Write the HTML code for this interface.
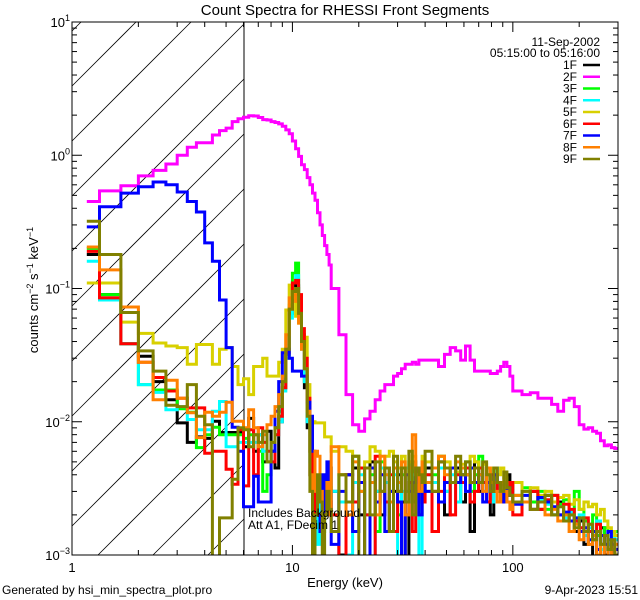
<!DOCTYPE html>
<html><head><meta charset="utf-8"><style>
html,body{margin:0;padding:0;background:#fff;width:640px;height:600px;overflow:hidden;}
svg{display:block;font-family:"Liberation Sans",sans-serif;overflow:hidden;}
</style></head><body>
<svg id="chart" width="640" height="600" viewBox="0 0 640 600" xmlns="http://www.w3.org/2000/svg">
<rect width="640" height="600" fill="#fff"/>
<defs><clipPath id="plotclip"><rect x="72" y="22" width="546" height="533"/></clipPath></defs>
<text x="345" y="15" font-size="15" text-anchor="middle">Count Spectra for RHESSI Front Segments</text>
<g id="hatch"></g>
<line x1="244" y1="22" x2="244" y2="555" stroke="#000" stroke-width="1"/>
<g id="series" clip-path="url(#plotclip)"></g>
<g id="axes"></g>
<text x="248" y="517" font-size="12">Includes Background</text>
<text x="248" y="529" font-size="12">Att A1, FDecim 1</text>
<text x="600" y="46" font-size="12" text-anchor="end">11-Sep-2002</text>
<text x="600" y="57" font-size="12" text-anchor="end">05:15:00 to 05:16:00</text>
<g id="legend"></g>
<text x="345" y="587" font-size="13" text-anchor="middle">Energy (keV)</text>
<text transform="translate(38,290) rotate(-90)" font-size="13" text-anchor="middle">counts cm<tspan font-size="9" dy="-5">−2</tspan><tspan dy="5"> s</tspan><tspan font-size="9" dy="-5">−1</tspan><tspan dy="5"> keV</tspan><tspan font-size="9" dy="-5">−1</tspan></text>
<text x="2" y="594" font-size="12">Generated by hsi_min_spectra_plot.pro</text>
<text x="638" y="594" font-size="12" text-anchor="end">9-Apr-2023 15:51</text>
</svg>
<script>
const lowEdges = [1.1667,1.3333,1.6667,2,2.3333,2.6667,3,3.3333,3.6667,4,4.3333,4.6667,5,5.3333,5.6667,6,6.3333,6.6667,7,7.3333,7.6667,8,8.3333,8.6667,9,9.3333,9.6667,10,10.3333,10.6667,11,11.3333,11.6667,12,12.3333,12.6667,13,13.3333,13.6667,14,14.3333,14.6667,15];
const highEdges = [16.25,17.5,18.75,20,21.25,22.5,23.75,25,26.25,27.5,28.75,30,31.25,32.5,33.75,35,36.25,37.5,38.75,40,43,46,49,52,55,58,61,64,67,70,73,76,79,82,85,88,91,94,97,100,110,120,130,140,150,160,170,180,190,200,210,220,230,240,250,260,270,280,290,300];
const seriesNames = ["1F","2F","3F","4F","5F","6F","7F","8F","9F"];
const seriesColors = ["#000000","#ff00ff","#00ff00","#00ffff","#d8d000","#ff0000","#0000ff","#ff8000","#808000"];
const yTicks = [10,1,0.1,0.01,0.001];
const yTickExp = ["1","0","−1","−2","−3"];
const xTicks = [1,10,100];
const xTickLabels = ["1","10","100"];

const s1F = [0.18,0.09,0.0385,0.031,0.02,0.0146,0.0098,0.007,0.0077,0.0075,0.0101,0.0083,0.0083,0.0083,0.0083,0.0065,0.0106,0.006,0.008,0.005,0.0085,0.006,0.0045,0.010,0.018,0.032,0.065,0.10,0.105,0.065,0.04,0.018,0.009,0.004,0.0008,0.003,0.002,0.0035,0.0025,0.003,0.004,0.0045,
 .003,.001,.004,.0045,.002,.0008,.005,.003,.002,.0045,.0015,.003,.004,.0025,.0008,.0035,.005,.003,.002,.004,.0045,.003,.005,.002,.0035,.0045,.0025,.004,.0015,.005,.003,.0035,.0045,.002,.004,.003,.0035,.0025,.004,.003,.0035,.0025,.003,.0022,.0028,.002,.0025,.0018,.002,.0015,.0018,.0012,.0015,.0008,.0014,.0016,.001,.0012,.0009,.0011];
const s2F = [0.45,0.54,0.59,0.70,0.77,0.86,1.0,1.15,1.24,1.24,1.42,1.53,1.60,1.79,1.88,1.93,1.98,1.97,1.92,1.85,1.84,1.79,1.76,1.72,1.65,1.55,1.45,1.28,1.12,0.98,0.85,0.78,0.68,0.60,0.52,0.46,0.37,0.30,0.25,0.21,0.18,0.15,
 0.10,0.045,0.016,0.0095,0.0085,0.0105,0.012,0.0146,0.017,0.019,0.019,0.022,0.023,0.025,0.027,0.027,0.028,0.027,0.029,0.029,0.029,0.029,0.026,0.032,0.036,0.034,0.029,0.037,0.029,0.024,0.024,0.024,0.024,0.023,0.023,0.024,0.026,0.028,0.026,0.022,0.017,0.016,0.0165,0.015,0.015,0.0135,0.012,0.0145,0.015,0.013,0.0095,0.0088,0.009,0.0085,0.0082,0.0072,0.0066,0.0067,0.0064,0.0063];
const s3F = [0.2,0.09,0.0385,0.019,0.0173,0.0173,0.0125,0.0118,0.0064,0.008,0.0091,0.008,0.008,0.008,0.008,0.0075,0.008,0.008,0.006,0.003,0.004,0.007,0.009,0.012,0.020,0.035,0.075,0.13,0.155,0.08,0.045,0.02,0.012,0.006,0.002,0.0035,0.003,0.002,0.0015,0.0025,0.003,0.0032,
 .002,.004,.0025,.0055,.003,.002,.004,.0015,.005,.0035,.003,.0045,.002,.004,.003,.005,.0025,.004,.0035,.005,.003,.004,.0055,.003,.0045,.0035,.004,.005,.003,.004,.0055,.0035,.004,.003,.0045,.0035,.003,.0025,.0035,.003,.0028,.0032,.0025,.003,.0022,.0028,.0024,.0026,.002,.003,.0022,.0018,.0017,.002,.0014,.0012,.0016,.0013,.0011,.0015];
const s4F = [0.16,0.082,0.0385,0.019,0.0166,0.0123,0.013,0.0104,0.0087,0.0087,0.012,0.0142,0.0065,0.0065,0.007,0.007,0.007,0.007,0.008,0.006,0.005,0.006,0.008,0.010,0.017,0.030,0.06,0.11,0.125,0.07,0.035,0.02,0.01,0.005,0.0015,0.002,0.0012,0.003,0.0035,0.002,0.003,0.0028,
 .003,.0025,.001,.0035,.004,.002,.0008,.003,.0045,.0035,.0025,.004,.0008,.003,.0045,.0025,.004,.0035,.0008,.003,.004,.0035,.0045,.003,.004,.0025,.0045,.003,.0035,.0045,.004,.003,.0035,.0025,.0045,.003,.0032,.0028,.0035,.003,.0025,.0028,.0022,.0026,.0024,.002,.0023,.0019,.0021,.0017,.002,.0014,.0016,.0013,.0018,.0011,.0014,.0012,.0015,.0013];
const s5F = [0.11,0.11,0.056,0.046,0.039,0.037,0.036,0.027,0.038,0.038,0.027,0.035,0.036,0.026,0.019,0.021,0.016,0.026,0.026,0.030,0.022,0.022,0.022,0.028,0.035,0.069,0.106,0.10,0.062,0.055,0.043,0.043,0.019,0.010,0.010,0.0098,0.0098,0.0098,0.0098,0.0077,0.0077,0.0077,
 .006,.0065,.006,.0055,.0045,.005,.0065,.006,.004,.0055,.006,.005,.0045,.0055,.004,.005,.0055,.0045,.004,.0055,.005,.0045,.0055,.005,.0045,.0042,.0048,.0045,.0055,.005,.0045,.0048,.004,.0045,.0035,.004,.0045,.0038,.0035,.0032,.0035,.003,.0032,.0028,.003,.0025,.0027,.0028,.0024,.0026,.0022,.0025,.0023,.0024,.002,.0022,.0018,.0016,.0015,.0014];
const s6F = [0.19,0.085,0.0385,0.028,0.0215,0.017,0.015,0.0127,0.0127,0.0058,0.006,0.006,0.0044,0.0034,0.0087,0.0033,0.0087,0.004,0.009,0.007,0.006,0.005,0.008,0.011,0.018,0.033,0.07,0.11,0.115,0.09,0.05,0.03,0.015,0.006,0.0008,0.003,0.002,0.0015,0.003,0.0025,0.002,0.0025,
 .002,.0008,.004,.0025,.0045,.002,.0008,.0055,.003,.0025,.004,.0015,.003,.0045,.002,.0035,.0015,.0045,.003,.0025,.004,.0015,.003,.0045,.002,.004,.0035,.0045,.0025,.003,.0045,.0035,.0025,.004,.003,.0035,.0025,.003,.0028,.0035,.002,.0025,.003,.0022,.0026,.0028,.002,.0024,.0022,.0018,.0016,.0019,.0015,.0013,.0017,.0012,.0014,.0011,.0013,.001];
const s7F = [0.29,0.41,0.52,0.58,0.63,0.60,0.53,0.45,0.375,0.22,0.16,0.082,0.036,0.0091,0.006,0.0023,0.0023,0.0039,0.0025,0.0025,0.0025,0.006,0.012,0.02,0.033,0.035,0.030,0.024,0.024,0.024,0.022,0.022,0.014,0.011,0.006,0.003,0.002,0.0015,0.004,0.002,0.005,0.003,
 .0012,.003,.004,.0015,.0035,.0008,.0045,.0025,.004,.0015,.003,.0045,.0025,.0008,.004,.003,.0035,.0045,.002,.0035,.003,.0045,.0025,.0035,.0045,.0035,.004,.003,.0045,.0035,.004,.0025,.0035,.003,.004,.0035,.003,.0025,.0032,.0028,.0024,.0028,.0022,.0027,.0025,.0023,.002,.0021,.0018,.0019,.0015,.0016,.0013,.0015,.0011,.0014,.0012,.0015,.0012,.0011];
const s8F = [0.205,0.138,0.0726,0.028,0.0146,0.0205,0.015,0.0117,0.0076,0.0118,0.011,0.0118,0.014,0.0101,0.0101,0.009,0.0123,0.009,0.0065,0.008,0.0095,0.011,0.013,0.016,0.022,0.045,0.085,0.09,0.08,0.055,0.035,0.025,0.012,0.004,0.003,0.006,0.0055,0.003,0.002,0.002,0.0035,0.002,
 .0065,.004,.002,.005,.003,.0045,.0035,.002,.0055,.004,.0025,.0045,.0035,.005,.002,.0045,.008,.004,.003,.005,.0035,.0045,.0055,.004,.0035,.005,.0045,.004,.0035,.0045,.004,.003,.0045,.0035,.003,.0025,.0035,.003,.0025,.0022,.0028,.0025,.0022,.0025,.002,.0022,.0018,.002,.0015,.0017,.0013,.0015,.0012,.0014,.001,.0012,.0009,.0011,.001,.0012];
const s9F = [0.32,0.18,0.066,0.034,0.024,0.0133,0.013,0.019,0.011,0.0095,0.0008,0.0019,0.0019,0.0037,0.009,0.0087,0.0065,0.008,0.007,0.0085,0.005,0.007,0.009,0.013,0.020,0.035,0.07,0.095,0.10,0.065,0.04,0.025,0.011,0.003,0.0008,0.002,0.004,0.0025,0.001,0.002,0.003,0.0022,
 .0015,.004,.0025,.0055,.0008,.0045,.002,.005,.003,.0045,.0015,.0055,.003,.0045,.0025,.006,.002,.0045,.004,.0035,.006,.003,.005,.0045,.0035,.0055,.004,.005,.0035,.0045,.0035,.005,.004,.003,.0045,.0035,.003,.0042,.0032,.0028,.0025,.003,.0022,.0025,.0028,.002,.0023,.0018,.002,.0016,.0019,.0015,.0017,.0013,.0015,.0012,.0014,.0011,.0013,.001];
const seriesValues = [s1F,s2F,s3F,s4F,s5F,s6F,s7F,s8F,s9F];

const X0=72, X1=618, Y0=22, Y1=555, XH=244;
const XMIN=0, XMAX=Math.log10(300), YMIN=-3, YMAX=1;
function xScale(e){return X0+(Math.log10(e)-XMIN)/(XMAX-XMIN)*(X1-X0);}
function yScale(v){const l=Math.log10(Math.max(v,0.0008));return Y0+(YMAX-l)/(YMAX-YMIN)*(Y1-Y0);}
const NS="http://www.w3.org/2000/svg";
function mk(tag,attrs,parent){const el=document.createElementNS(NS,tag);for(const k in attrs)el.setAttribute(k,attrs[k]);parent.appendChild(el);return el;}
const edges = lowEdges.concat(highEdges);

// hatch lines y = c - (x - X0), clipped manually to [X0,XH]x[Y0,Y1]
const hatch=document.getElementById('hatch');
for(let k=-1;k<14;k++){const c=86+55*k;
 let xa=X0, ya=c;
 if(ya>Y1){xa=X0+(c-Y1);ya=Y1;}
 let xb=X0+(c-Y0), yb=Y0;
 if(xb>XH){xb=XH;yb=c-(XH-X0);}
 if(xa>=xb||ya<Y0)continue;
 const ln=mk('line',{x1:xa,y1:ya,x2:xb,y2:yb,stroke:'#000','stroke-width':0.8},hatch);
 
 
}

const sg=document.getElementById('series');
seriesValues.forEach((vals,si)=>{
 let d='';
 for(let i=0;i<vals.length && i+1<edges.length;i++){
  const xa=xScale(edges[i]).toFixed(1), xb=xScale(edges[i+1]).toFixed(1), y=yScale(vals[i]).toFixed(1);
  d+=(i===0?'M':'L')+xa+','+y+'L'+xb+','+y;
 }
 const p=mk('path',{d:d,fill:'none',stroke:seriesColors[si],'stroke-width':3,'stroke-linejoin':'miter'},sg);
 
 
});

const ag=document.getElementById('axes');
const frame=mk('rect',{x:X0,y:Y0,width:X1-X0,height:Y1-Y0,fill:'none',stroke:'#000','stroke-width':1},ag);


for(let dec=0;dec<3;dec++){for(let m=1;m<10;m++){const e=m*Math.pow(10,dec);if(e>300)break;
 const x=xScale(e), len=(m===1)?10:5;
 mk('line',{x1:x,y1:Y1,x2:x,y2:Y1-len,stroke:'#000'},ag);
 mk('line',{x1:x,y1:Y0,x2:x,y2:Y0+len,stroke:'#000'},ag);
}}
for(let dec=-3;dec<1;dec++){for(let m=1;m<10;m++){const v=m*Math.pow(10,dec);
 const y=yScale(v), len=(m===1)?10:5;
 mk('line',{x1:X0,y1:y,x2:X0+len,y2:y,stroke:'#000'},ag);
 mk('line',{x1:X1,y1:y,x2:X1-len,y2:y,stroke:'#000'},ag);
}}
xTicks.forEach((t,i)=>{
 const tx=mk('text',{x:xScale(t),y:572,'font-size':13,'text-anchor':'middle'},ag);
 tx.textContent=xTickLabels[i];
 
 
});
yTicks.forEach((t,i)=>{
 const y=yScale(t);
 const tx=mk('text',{x:X0-2,y:y+5,'font-size':13,'text-anchor':'end'},ag);
 
 
 const a=mk('tspan',{},tx);a.textContent='10';
 const b=mk('tspan',{'font-size':9,dy:-6},tx);b.textContent=yTickExp[i];
});

const lg=document.getElementById('legend');
seriesNames.forEach((n,i)=>{
 const y=65+i*11.75;
 const t=mk('text',{x:577,y:y+4,'font-size':12,'text-anchor':'end'},lg);
 t.textContent=n;
 
 
 const l=mk('line',{x1:583,y1:y,x2:600,y2:y,stroke:seriesColors[i],'stroke-width':2.5},lg);
 
 
});
</script>
</body></html>
